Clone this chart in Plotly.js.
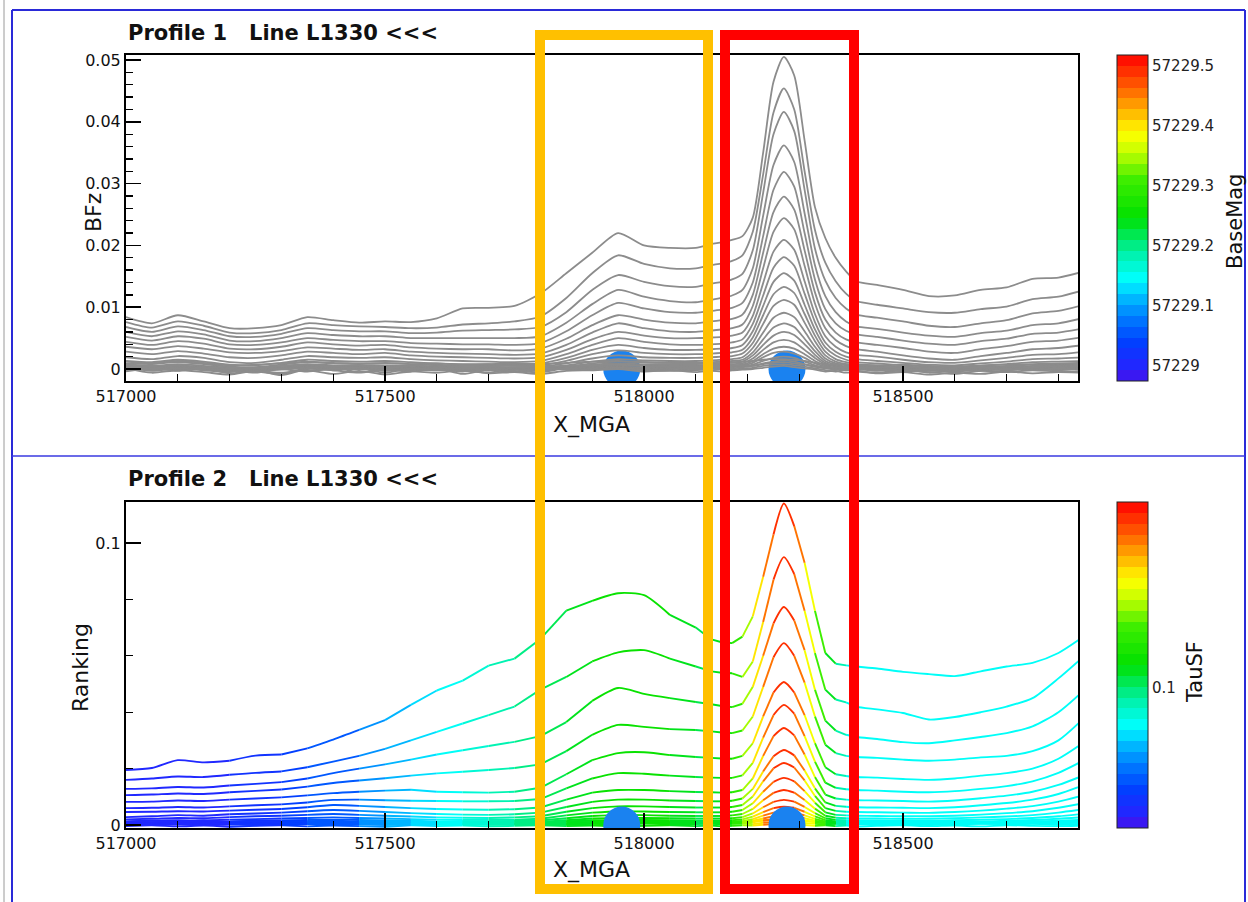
<!DOCTYPE html>
<html><head><meta charset="utf-8">
<script src="https://cdn.plot.ly/plotly-3.0.1.min.js"></script>
<style>html,body{margin:0;padding:0;background:#fff}#chart{width:1248px;height:902px}</style>
</head><body><div id="chart"></div>
<script>
// ---------------- DATA ----------------
const xStations = [517000,517050,517100,517150,517200,517250,517300,517350,517400,517450,517500,517550,517600,517650,517700,517750,517800,517850,517900,517950,518000,518050,518100,
518130,518150,518170,518190,518210,518230,518250,518270,518290,518310,518330,518350,518370,518390,518410,
518450,518500,518550,518600,518650,518700,518750,518800,518850];

// Profile 1 : BFz channels
const bfz1 = [0.0084,0.0074,0.0087,0.0077,0.0066,0.0066,0.0071,0.0084,0.0079,0.0075,0.0077,0.0076,0.0082,0.0098,0.0099,0.0102,0.0122,0.0155,0.0188,0.0220,0.0200,0.0196,0.0196,
0.0202,0.0205,0.0209,0.0215,0.0245,0.0350,0.0465,0.0505,0.0475,0.0370,0.0262,0.0212,0.0180,0.0158,0.0142,
0.0136,0.0128,0.0118,0.0119,0.0128,0.0132,0.0146,0.0148,0.0158];
const bfz2 = [0.0076,0.0067,0.0077,0.0070,0.0059,0.0058,0.0063,0.0074,0.0071,0.0069,0.0068,0.0066,0.0067,0.0072,0.0074,0.0077,0.0085,0.0115,0.0155,0.0184,0.0170,0.0163,0.0163,
0.0168,0.0171,0.0175,0.0184,0.0222,0.0315,0.0415,0.0454,0.0420,0.0320,0.0225,0.0172,0.0142,0.0122,0.0110,
0.0104,0.0098,0.0092,0.0091,0.0097,0.0101,0.0113,0.0117,0.0128];
const bfz3 = [0.0068,0.0060,0.0069,0.0063,0.0053,0.0052,0.0057,0.0066,0.0063,0.0061,0.0061,0.0058,0.0059,0.0062,0.0063,0.0064,0.0068,0.0092,0.0128,0.0152,0.0141,0.0134,0.0133,
0.0138,0.0141,0.0145,0.0154,0.0192,0.0285,0.0380,0.0416,0.0385,0.0290,0.0195,0.0143,0.0115,0.0098,0.0088,
0.0083,0.0077,0.0070,0.0068,0.0074,0.0079,0.0090,0.0094,0.0104];
const bfz4 = [0.0060,0.0053,0.0061,0.0056,0.0046,0.0045,0.0050,0.0058,0.0055,0.0053,0.0053,0.0050,0.0050,0.0050,0.0050,0.0050,0.0053,0.0075,0.0105,0.0128,0.0117,0.0110,0.0108,
0.0112,0.0115,0.0119,0.0128,0.0163,0.0248,0.0330,0.0362,0.0335,0.0252,0.0168,0.0118,0.0092,0.0077,0.0069,
0.0065,0.0059,0.0054,0.0052,0.0058,0.0062,0.0071,0.0074,0.0083];
const bfz5 = [0.0052,0.0046,0.0053,0.0049,0.0040,0.0039,0.0043,0.0050,0.0047,0.0045,0.0045,0.0042,0.0041,0.0040,0.0040,0.0039,0.0042,0.0061,0.0087,0.0107,0.0098,0.0092,0.0091,
0.0094,0.0096,0.0099,0.0107,0.0140,0.0215,0.0290,0.0319,0.0295,0.0220,0.0145,0.0097,0.0074,0.0062,0.0056,
0.0052,0.0046,0.0041,0.0039,0.0045,0.0049,0.0057,0.0059,0.0066];
const bfz6 = [0.0044,0.0039,0.0045,0.0041,0.0033,0.0032,0.0036,0.0043,0.0040,0.0038,0.0039,0.0035,0.0033,0.0032,0.0032,0.0030,0.0033,0.0049,0.0071,0.0087,0.0080,0.0075,0.0074,
0.0077,0.0079,0.0081,0.0088,0.0120,0.0188,0.0254,0.0279,0.0258,0.0192,0.0124,0.0080,0.0059,0.0048,0.0043,
0.0039,0.0034,0.0028,0.0026,0.0032,0.0037,0.0044,0.0046,0.0052];
const bfz7 = [0.0036,0.0032,0.0037,0.0033,0.0027,0.0026,0.0029,0.0035,0.0033,0.0031,0.0032,0.0028,0.0026,0.0025,0.0024,0.0023,0.0025,0.0039,0.0059,0.0074,0.0066,0.0061,0.0060,
0.0062,0.0064,0.0066,0.0072,0.0102,0.0163,0.0222,0.0244,0.0226,0.0167,0.0106,0.0066,0.0047,0.0037,0.0032,
0.0028,0.0022,0.0017,0.0015,0.0021,0.0026,0.0032,0.0034,0.0039];
const bfz8 = [0.0028,0.0024,0.0029,0.0025,0.0019,0.0018,0.0022,0.0028,0.0026,0.0024,0.0026,0.0022,0.0020,0.0019,0.0018,0.0017,0.0019,0.0031,0.0048,0.0060,0.0054,0.0050,0.0050,
0.0051,0.0052,0.0054,0.0059,0.0086,0.0139,0.0190,0.0209,0.0193,0.0142,0.0089,0.0053,0.0036,0.0027,0.0023,
0.0020,0.0015,0.0011,0.0010,0.0014,0.0018,0.0023,0.0024,0.0028];
const bfz9 = [0.0019,0.0016,0.0021,0.0018,0.0011,0.0010,0.0015,0.0021,0.0019,0.0018,0.0019,0.0016,0.0014,0.0013,0.0012,0.0011,0.0013,0.0024,0.0039,0.0050,0.0044,0.0040,0.0039,
0.0040,0.0041,0.0043,0.0048,0.0073,0.0119,0.0164,0.0181,0.0167,0.0122,0.0076,0.0043,0.0028,0.0020,0.0016,
0.0013,0.0010,0.0007,0.0006,0.0009,0.0012,0.0016,0.0017,0.0019];
const bfz10 = [0.0013,0.0011,0.0015,0.0012,0.0007,0.0006,0.0010,0.0015,0.0013,0.0012,0.0013,0.0011,0.0009,0.0008,0.0008,0.0007,0.0009,0.0018,0.0031,0.0039,0.0034,0.0031,0.0031,
0.0032,0.0033,0.0034,0.0039,0.0061,0.0102,0.0141,0.0155,0.0143,0.0104,0.0064,0.0035,0.0022,0.0015,0.0011,
0.0009,0.0006,0.0004,0.0003,0.0005,0.0008,0.0011,0.0012,0.0013];
const bfz11 = [0.0009,0.0008,0.0011,0.0008,0.0004,0.0003,0.0007,0.0011,0.0009,0.0009,0.0009,0.0008,0.0006,0.0005,0.0005,0.0005,0.0006,0.0013,0.0024,0.0030,0.0026,0.0024,0.0024,
0.0025,0.0026,0.0027,0.0031,0.0051,0.0087,0.0121,0.0133,0.0123,0.0089,0.0054,0.0028,0.0016,0.0011,0.0008,
0.0006,0.0004,0.0002,0.0001,0.0003,0.0005,0.0007,0.0008,0.0008];
const bfz12 = [0.0006,0.0005,0.0008,0.0005,0.0002,0.0001,0.0005,0.0008,0.0006,0.0006,0.0006,0.0005,0.0004,0.0003,0.0003,0.0003,0.0004,0.0009,0.0017,0.0022,0.0019,0.0018,0.0018,
0.0019,0.0020,0.0021,0.0025,0.0042,0.0073,0.0102,0.0112,0.0104,0.0075,0.0045,0.0022,0.0012,0.0008,0.0006,
0.0004,0.0002,0.0001,0.0000,0.0002,0.0003,0.0005,0.0006,0.0006];
const bfz13 = [0.0004,0.0003,0.0006,0.0003,0.0000,-0.0001,0.0003,0.0006,0.0004,0.0004,0.0004,0.0003,0.0002,0.0002,0.0002,0.0002,0.0003,0.0006,0.0012,0.0016,0.0014,0.0013,0.0013,
0.0014,0.0015,0.0016,0.0019,0.0034,0.0059,0.0083,0.0091,0.0084,0.0061,0.0036,0.0017,0.0009,0.0006,0.0004,
0.0003,0.0001,0.0000,-0.0001,0.0001,0.0002,0.0003,0.0004,0.0004];
const bfz14 = [0.0003,0.0002,0.0005,0.0002,-0.0001,-0.0002,0.0002,0.0005,0.0003,0.0003,0.0003,0.0002,0.0001,0.0001,0.0001,0.0001,0.0002,0.0004,0.0009,0.0012,0.0011,0.0010,0.0010,
0.0011,0.0012,0.0013,0.0015,0.0027,0.0048,0.0067,0.0074,0.0068,0.0049,0.0029,0.0013,0.0007,0.0004,0.0003,
0.0002,0.0000,-0.0001,-0.0001,0.0000,0.0001,0.0002,0.0003,0.0003];
const bfz15 = [0.0002,0.0001,0.0004,0.0001,-0.0002,-0.0002,0.0001,0.0004,0.0002,0.0002,0.0002,0.0001,0.0000,0.0001,0.0000,0.0000,0.0001,0.0003,0.0007,0.0009,0.0008,0.0008,0.0008,
0.0009,0.0010,0.0010,0.0012,0.0022,0.0039,0.0054,0.0060,0.0055,0.0040,0.0023,0.0010,0.0005,0.0003,0.0002,
0.0001,0.0000,-0.0001,-0.0002,0.0000,0.0000,0.0001,0.0002,0.0002];
const bfz16 = [0.0001,0.0000,0.0003,0.0000,-0.0003,-0.0002,0.0000,0.0003,0.0001,0.0001,0.0001,0.0000,-0.0001,0.0000,-0.0001,0.0000,0.0000,0.0002,0.0005,0.0007,0.0006,0.0006,0.0006,
0.0007,0.0008,0.0008,0.0009,0.0017,0.0031,0.0043,0.0047,0.0043,0.0031,0.0018,0.0008,0.0004,0.0002,0.0001,
0.0000,-0.0001,-0.0002,-0.0002,-0.0001,0.0000,0.0001,0.0001,0.0001];
const bfz17 = [0.0000,-0.0001,0.0002,-0.0001,-0.0004,-0.0003,-0.0001,0.0002,0.0000,0.0000,0.0000,-0.0001,-0.0002,-0.0001,-0.0002,-0.0001,-0.0001,0.0001,0.0004,0.0005,0.0005,0.0004,0.0004,
0.0005,0.0006,0.0006,0.0007,0.0013,0.0024,0.0033,0.0036,0.0033,0.0024,0.0013,0.0006,0.0002,0.0001,0.0000,
-0.0001,-0.0002,-0.0003,-0.0003,-0.0002,-0.0001,0.0000,0.0000,0.0000];
const bfz18 = [0.0005,0.0002,0.0003,0.0002,-0.0001,-0.0006,0.0001,0.0001,-0.0002,0.0002,-0.0003,0.0001,0.0000,-0.0004,0.0001,0.0000,-0.0003,0.0002,0.0003,0.0004,0.0002,0.0003,0.0001,
0.0003,0.0004,0.0004,0.0006,0.0010,0.0019,0.0026,0.0028,0.0025,0.0018,0.0009,0.0004,0.0000,0.0002,-0.0001,
0.0001,-0.0004,-0.0001,-0.0005,0.0001,-0.0002,0.0002,0.0000,0.0002];
const bfz19 = [-0.0002,0.0004,-0.0001,0.0003,0.0001,-0.0004,-0.0008,0.0002,0.0003,-0.0005,0.0000,-0.0002,0.0003,0.0000,-0.0006,0.0002,0.0001,0.0000,0.0002,0.0003,0.0000,0.0001,-0.0002,
0.0002,0.0001,0.0003,0.0004,0.0007,0.0013,0.0018,0.0020,0.0018,0.0012,0.0006,0.0002,-0.0001,0.0001,0.0000,
-0.0003,0.0001,-0.0006,-0.0002,-0.0003,0.0001,-0.0001,0.0001,-0.0001];
const bfz20 = [0.0003,-0.0003,0.0001,-0.0002,-0.0005,0.0002,0.0000,-0.0004,0.0001,0.0002,-0.0006,0.0001,-0.0001,0.0002,-0.0002,-0.0004,0.0002,-0.0001,0.0001,0.0002,-0.0001,0.0000,0.0001,
0.0000,0.0002,0.0001,0.0003,0.0005,0.0009,0.0012,0.0014,0.0012,0.0008,0.0004,0.0001,0.0000,-0.0002,0.0001,
0.0000,-0.0002,0.0000,-0.0004,0.0002,-0.0001,0.0000,-0.0002,0.0001];
const bfz21 = [0.0008,0.0005,0.0006,0.0009,0.0003,0.0001,0.0005,0.0007,0.0004,0.0006,0.0002,0.0005,0.0007,0.0003,0.0004,0.0006,0.0003,0.0005,0.0006,0.0007,0.0005,0.0004,0.0003,
0.0004,0.0003,0.0005,0.0006,0.0005,0.0008,0.0010,0.0011,0.0009,0.0007,0.0004,0.0003,0.0002,0.0004,0.0003,
0.0002,0.0004,0.0001,0.0003,0.0002,0.0004,0.0003,0.0005,0.0004];
const bfz22 = [-0.0004,0.0001,-0.0003,0.0002,-0.0007,-0.0002,-0.0010,0.0000,-0.0002,-0.0006,-0.0001,-0.0004,0.0001,-0.0008,-0.0001,-0.0003,-0.0005,0.0001,-0.0001,0.0002,-0.0002,-0.0003,-0.0001,
-0.0002,0.0000,-0.0001,0.0001,0.0002,0.0005,0.0007,0.0008,0.0006,0.0004,0.0001,-0.0002,-0.0004,-0.0001,-0.0003,
-0.0006,-0.0002,-0.0005,-0.0008,-0.0003,-0.0005,-0.0002,-0.0004,-0.0003];
const bfz23 = [0.0012,0.0009,0.0013,0.0010,0.0006,0.0007,0.0009,0.0012,0.0010,0.0008,0.0010,0.0008,0.0009,0.0007,0.0008,0.0009,0.0008,0.0010,0.0012,0.0013,0.0011,0.0010,0.0009,
0.0010,0.0009,0.0011,0.0012,0.0013,0.0015,0.0016,0.0016,0.0015,0.0013,0.0010,0.0008,0.0007,0.0008,0.0006,
0.0006,0.0007,0.0005,0.0004,0.0006,0.0007,0.0008,0.0009,0.0010];
const bfz24 = [0.0001,-0.0006,-0.0002,-0.0005,-0.0009,-0.0003,-0.0006,-0.0002,-0.0008,-0.0003,-0.0009,-0.0004,-0.0006,-0.0002,-0.0007,-0.0005,-0.0008,-0.0003,-0.0002,0.0000,-0.0004,-0.0002,-0.0005,
-0.0003,-0.0004,-0.0002,-0.0001,0.0000,0.0002,0.0004,0.0005,0.0003,0.0001,-0.0001,-0.0004,-0.0003,-0.0006,-0.0004,
-0.0007,-0.0005,-0.0009,-0.0006,-0.0008,-0.0004,-0.0007,-0.0005,-0.0006];
const bfzChannels = [bfz1,bfz2,bfz3,bfz4,bfz5,bfz6,bfz7,bfz8,bfz9,bfz10,bfz11,bfz12,bfz13,bfz14,bfz15,bfz16,bfz17,bfz18,bfz19,bfz20,bfz21,bfz22,bfz23,bfz24];

// Profile 2 : Ranking channels
const rank1 = [0.0195,0.0202,0.0230,0.0222,0.0228,0.0246,0.0250,0.0272,0.0303,0.0337,0.0372,0.0426,0.0477,0.0512,0.0565,0.0590,0.0660,0.0760,0.0795,0.0822,0.0815,0.0745,0.0700,
0.0658,0.0648,0.0645,0.0668,0.0740,0.0880,0.1030,0.1140,0.1060,0.0930,0.0760,0.0610,0.0572,0.0566,0.0562,
0.0555,0.0543,0.0535,0.0528,0.0545,0.0562,0.0575,0.0610,0.0670];
const rank2 = [0.0160,0.0165,0.0172,0.0170,0.0178,0.0185,0.0190,0.0205,0.0225,0.0245,0.0270,0.0300,0.0330,0.0360,0.0390,0.0420,0.0480,0.0525,0.0580,0.0612,0.0620,0.0590,0.0562,
0.0545,0.0540,0.0538,0.0525,0.0580,0.0720,0.0870,0.0950,0.0890,0.0760,0.0610,0.0480,0.0445,0.0435,0.0420,
0.0410,0.0397,0.0374,0.0383,0.0400,0.0420,0.0450,0.0520,0.0600];
const rank3 = [0.0128,0.0130,0.0135,0.0133,0.0140,0.0146,0.0152,0.0165,0.0184,0.0200,0.0215,0.0232,0.0250,0.0265,0.0280,0.0295,0.0315,0.0365,0.0440,0.0486,0.0465,0.0450,0.0436,
0.0428,0.0422,0.0418,0.0430,0.0490,0.0600,0.0715,0.0773,0.0725,0.0620,0.0480,0.0370,0.0335,0.0320,0.0312,
0.0305,0.0294,0.0290,0.0300,0.0312,0.0326,0.0350,0.0400,0.0479];
const rank4 = [0.0106,0.0108,0.0112,0.0110,0.0116,0.0121,0.0126,0.0136,0.0149,0.0158,0.0166,0.0175,0.0183,0.0189,0.0195,0.0202,0.0215,0.0262,0.0320,0.0355,0.0348,0.0340,0.0337,
0.0332,0.0328,0.0326,0.0335,0.0385,0.0490,0.0595,0.0645,0.0600,0.0505,0.0385,0.0285,0.0255,0.0245,0.0241,
0.0238,0.0232,0.0228,0.0232,0.0240,0.0245,0.0262,0.0300,0.0380];
const rank5 = [0.0082,0.0083,0.0087,0.0085,0.0090,0.0094,0.0098,0.0105,0.0113,0.0118,0.0122,0.0125,0.0118,0.0116,0.0115,0.0118,0.0132,0.0180,0.0230,0.0255,0.0258,0.0248,0.0241,
0.0238,0.0236,0.0235,0.0245,0.0290,0.0385,0.0470,0.0507,0.0470,0.0390,0.0290,0.0205,0.0180,0.0174,0.0170,
0.0168,0.0163,0.0160,0.0165,0.0175,0.0184,0.0200,0.0235,0.0294];
const rank6 = [0.0060,0.0061,0.0064,0.0062,0.0066,0.0070,0.0073,0.0080,0.0089,0.0090,0.0088,0.0086,0.0085,0.0084,0.0084,0.0085,0.0092,0.0130,0.0165,0.0184,0.0182,0.0175,0.0170,
0.0168,0.0167,0.0167,0.0176,0.0220,0.0310,0.0390,0.0426,0.0395,0.0315,0.0225,0.0150,0.0132,0.0127,0.0124,
0.0122,0.0118,0.0116,0.0120,0.0128,0.0138,0.0155,0.0185,0.0230];
const rank7 = [0.0046,0.0047,0.0049,0.0048,0.0051,0.0054,0.0057,0.0063,0.0071,0.0068,0.0064,0.0060,0.0057,0.0055,0.0054,0.0056,0.0062,0.0090,0.0115,0.0124,0.0124,0.0120,0.0117,
0.0116,0.0115,0.0116,0.0124,0.0165,0.0245,0.0315,0.0344,0.0318,0.0250,0.0170,0.0108,0.0094,0.0090,0.0088,
0.0087,0.0085,0.0083,0.0087,0.0095,0.0104,0.0118,0.0142,0.0177];
const rank8 = [0.0028,0.0031,0.0035,0.0033,0.0038,0.0041,0.0044,0.0049,0.0053,0.0050,0.0046,0.0042,0.0039,0.0037,0.0036,0.0038,0.0044,0.0064,0.0082,0.0090,0.0090,0.0087,0.0085,
0.0084,0.0084,0.0086,0.0094,0.0128,0.0190,0.0244,0.0266,0.0247,0.0193,0.0130,0.0080,0.0068,0.0065,0.0063,
0.0062,0.0061,0.0060,0.0063,0.0070,0.0078,0.0090,0.0110,0.0142];
const rank9 = [0.0020,0.0022,0.0025,0.0024,0.0028,0.0031,0.0033,0.0036,0.0039,0.0036,0.0033,0.0030,0.0027,0.0026,0.0025,0.0027,0.0031,0.0047,0.0060,0.0066,0.0066,0.0064,0.0062,
0.0062,0.0062,0.0064,0.0071,0.0101,0.0155,0.0201,0.0220,0.0204,0.0158,0.0103,0.0060,0.0050,0.0047,0.0046,
0.0045,0.0044,0.0043,0.0046,0.0051,0.0058,0.0067,0.0083,0.0106];
const rank10 = [0.0013,0.0015,0.0017,0.0016,0.0019,0.0021,0.0023,0.0025,0.0027,0.0025,0.0023,0.0021,0.0019,0.0018,0.0018,0.0019,0.0022,0.0034,0.0044,0.0048,0.0048,0.0046,0.0045,
0.0045,0.0045,0.0047,0.0053,0.0077,0.0118,0.0153,0.0167,0.0155,0.0120,0.0079,0.0045,0.0036,0.0034,0.0033,
0.0032,0.0031,0.0031,0.0033,0.0037,0.0042,0.0049,0.0061,0.0078];
const rank11 = [0.0009,0.0010,0.0012,0.0011,0.0013,0.0015,0.0016,0.0018,0.0019,0.0018,0.0016,0.0015,0.0013,0.0013,0.0013,0.0014,0.0016,0.0024,0.0032,0.0035,0.0035,0.0033,0.0032,
0.0032,0.0032,0.0034,0.0039,0.0057,0.0088,0.0114,0.0124,0.0115,0.0089,0.0058,0.0033,0.0026,0.0024,0.0023,
0.0023,0.0022,0.0022,0.0024,0.0027,0.0030,0.0035,0.0044,0.0056];
const rank12 = [0.0006,0.0007,0.0008,0.0008,0.0009,0.0010,0.0011,0.0012,0.0013,0.0012,0.0011,0.0010,0.0009,0.0009,0.0009,0.0010,0.0011,0.0017,0.0023,0.0025,0.0025,0.0024,0.0023,
0.0023,0.0023,0.0024,0.0028,0.0041,0.0063,0.0082,0.0089,0.0083,0.0064,0.0042,0.0024,0.0018,0.0017,0.0016,
0.0016,0.0016,0.0015,0.0017,0.0019,0.0021,0.0025,0.0031,0.0040];
const rank13 = [0.0004,0.0005,0.0006,0.0005,0.0006,0.0007,0.0008,0.0008,0.0009,0.0008,0.0008,0.0007,0.0006,0.0006,0.0006,0.0007,0.0008,0.0012,0.0016,0.0018,0.0018,0.0017,0.0016,
0.0016,0.0016,0.0017,0.0020,0.0030,0.0046,0.0060,0.0065,0.0061,0.0047,0.0031,0.0017,0.0013,0.0012,0.0011,
0.0011,0.0011,0.0011,0.0012,0.0013,0.0015,0.0018,0.0022,0.0028];
const rank14 = [0.0003,0.0003,0.0004,0.0004,0.0004,0.0005,0.0005,0.0006,0.0006,0.0006,0.0005,0.0005,0.0004,0.0004,0.0004,0.0005,0.0005,0.0008,0.0011,0.0012,0.0012,0.0012,0.0011,
0.0011,0.0011,0.0012,0.0014,0.0021,0.0033,0.0044,0.0048,0.0045,0.0034,0.0022,0.0012,0.0009,0.0008,0.0008,
0.0008,0.0008,0.0007,0.0008,0.0009,0.0010,0.0012,0.0015,0.0019];
const rank15 = [0.0002,0.0002,0.0003,0.0002,0.0003,0.0003,0.0004,0.0004,0.0004,0.0004,0.0003,0.0003,0.0003,0.0003,0.0003,0.0003,0.0004,0.0005,0.0007,0.0008,0.0008,0.0008,0.0008,
0.0008,0.0008,0.0008,0.0010,0.0015,0.0023,0.0031,0.0034,0.0032,0.0024,0.0015,0.0008,0.0006,0.0006,0.0005,
0.0005,0.0005,0.0005,0.0005,0.0006,0.0007,0.0008,0.0010,0.0013];
const rank16 = [0.0001,0.0001,0.0002,0.0001,0.0002,0.0002,0.0002,0.0003,0.0003,0.0002,0.0002,0.0002,0.0002,0.0002,0.0002,0.0002,0.0002,0.0003,0.0005,0.0005,0.0005,0.0005,0.0005,
0.0005,0.0005,0.0005,0.0006,0.0010,0.0016,0.0021,0.0023,0.0021,0.0016,0.0010,0.0005,0.0004,0.0004,0.0003,
0.0003,0.0003,0.0003,0.0003,0.0004,0.0004,0.0005,0.0006,0.0008];
const rank17 = [0.0012,0.0015,0.0010,0.0016,0.0011,0.0014,0.0009,0.0013,0.0016,0.0010,0.0012,0.0014,0.0009,0.0013,0.0011,0.0015,0.0010,0.0013,0.0016,0.0012,0.0014,0.0010,0.0013,
0.0011,0.0014,0.0012,0.0010,0.0013,0.0016,0.0018,0.0019,0.0017,0.0014,0.0011,0.0013,0.0010,0.0012,0.0014,
0.0010,0.0013,0.0011,0.0015,0.0012,0.0010,0.0014,0.0011,0.0013];
const rank18 = [0.0004,0.0000,0.0005,0.0002,0.0006,-0.0001,0.0003,0.0006,0.0001,0.0004,0.0000,0.0005,0.0002,0.0006,0.0001,0.0003,0.0005,0.0000,0.0004,0.0002,0.0006,0.0001,0.0003,
0.0005,0.0002,0.0004,0.0006,0.0003,0.0008,0.0010,0.0011,0.0009,0.0007,0.0004,0.0002,0.0005,0.0001,0.0004,
0.0002,0.0005,0.0000,0.0004,0.0006,0.0002,0.0004,0.0001,0.0005];
const rank19 = [-0.0004,-0.0001,-0.0005,-0.0002,-0.0006,-0.0003,-0.0001,-0.0005,-0.0002,-0.0004,-0.0006,-0.0001,-0.0004,-0.0002,-0.0005,-0.0003,-0.0001,-0.0004,-0.0002,-0.0005,-0.0003,-0.0001,-0.0004,
-0.0002,-0.0005,-0.0003,-0.0001,-0.0002,0.0001,0.0003,0.0004,0.0002,0.0000,-0.0003,-0.0001,-0.0004,-0.0002,-0.0005,
-0.0003,-0.0001,-0.0004,-0.0002,-0.0005,-0.0001,-0.0003,-0.0004,-0.0002];
const rankChannels = [rank1,rank2,rank3,rank4,rank5,rank6,rank7,rank8,rank9,rank10,rank11,rank12,rank13,rank14,rank15,rank16,rank17,rank18,rank19];

// TauSF value at each station (colours the Ranking lines)
const tauSF = [0.054,0.055,0.056,0.057,0.058,0.060,0.062,0.064,0.067,0.071,0.076,0.081,0.084,0.087,0.091,0.096,0.102,0.106,0.109,0.112,0.110,0.107,0.104,
0.104,0.107,0.113,0.124,0.136,0.148,0.158,0.163,0.158,0.146,0.130,0.112,0.098,0.090,0.087,
0.086,0.085,0.085,0.085,0.086,0.086,0.087,0.088,0.089];

// targets (blue dots)
const targetX = [517957, 518276];
const targetY = [0, 0];

// tick labels
const xTicks = [517000, 517500, 518000, 518500];
const xTickText = ['517000','517500','518000','518500'];
const bfzTicks = [0, 0.01, 0.02, 0.03, 0.04, 0.05];
const bfzTickText = ['0','0.01','0.02','0.03','0.04','0.05'];
const rankTicks = [0, 0.1];
const rankTickText = ['0','0.1'];
const baseMagTicks = [57229, 57229.1, 57229.2, 57229.3, 57229.4, 57229.5];
const baseMagTickText = ['57229','57229.1','57229.2','57229.3','57229.4','57229.5'];
const baseMagRange = [57228.975, 57229.518];
const tauTicks = [0.1];
const tauTickText = ['0.1'];
const tauRange = [0.05, 0.166];

// ---------------- STYLE / HELPERS ----------------
const W = 1248, H = 902;
const PX = x => x / W;
const PY = y => 1 - y / H;
const FONT = 'DejaVu Sans, Arial, sans-serif';

const baseScale = [[0,'#4a10e8'],[0.04,'#2424ff'],[0.12,'#0040ff'],[0.20,'#0080ff'],[0.26,'#00c0ff'],[0.31,'#00ffff'],
  [0.40,'#00f0a0'],[0.50,'#00e000'],[0.62,'#40ee00'],[0.70,'#c0ff00'],[0.76,'#ffff00'],[0.83,'#ffb000'],[0.90,'#ff6000'],[1,'#ff0000']];
function hex2rgb(h){return [parseInt(h.substr(1,2),16),parseInt(h.substr(3,2),16),parseInt(h.substr(5,2),16)];}
function sample(f){
  f = Math.max(0, Math.min(1, f));
  for (let i=0;i<baseScale.length-1;i++){
    const a=baseScale[i], b=baseScale[i+1];
    if (f<=b[0]){ const t=(f-a[0])/(b[0]-a[0]); const ca=hex2rgb(a[1]), cb=hex2rgb(b[1]);
      return 'rgb('+ca.map((v,k)=>Math.round(v+(cb[k]-v)*t)).join(',')+')'; }
  }
  return baseScale[baseScale.length-1][1];
}
const NB = 30;
const bandColors = []; const bandedScale = [];
for (let k=0;k<NB;k++){ const c=sample((k+0.5)/NB); bandColors.push(c); bandedScale.push([k/NB,c]); bandedScale.push([(k+1)/NB,c]); }
const bandOf = f => Math.max(0, Math.min(NB-1, Math.floor(f*NB)));

const traces = [];
// Profile 1: blue targets under lines
traces.push({x: targetX, y: targetY, xaxis:'x', yaxis:'y', mode:'markers', type:'scatter',
  marker:{size:37, color:'#1a82f0', line:{width:0}}, hoverinfo:'skip', showlegend:false});
bfzChannels.forEach(ch => traces.push({x: xStations, y: ch, xaxis:'x', yaxis:'y', type:'scatter', mode:'lines',
  line:{color:'#8c8c8c', width:1.8, shape:'spline', smoothing:0.7}, hoverinfo:'skip', showlegend:false}));

// Profile 2: lines coloured by TauSF, grouped by colour band
const bandX = Array.from({length:NB},()=>[]), bandY = Array.from({length:NB},()=>[]);
rankChannels.forEach(ch => {
  let cur = -1, rx = [], ry = [];
  const flush = () => { if (rx.length>1){ bandX[cur].push(...rx, null); bandY[cur].push(...ry, null);} };
  for (let i=0;i<xStations.length-1;i++){
    const f = ((tauSF[i]+tauSF[i+1])/2 - tauRange[0])/(tauRange[1]-tauRange[0]);
    const b = bandOf(f);
    if (b!==cur){ flush(); cur=b; rx=[xStations[i]]; ry=[ch[i]]; }
    rx.push(xStations[i+1]); ry.push(ch[i+1]);
  }
  flush();
});
for (let k=0;k<NB;k++){ if (bandX[k].length) traces.push({x: bandX[k], y: bandY[k], xaxis:'x2', yaxis:'y2', type:'scatter', mode:'lines',
  line:{color: bandColors[k], width:1.9, shape:'spline', smoothing:0.7}, connectgaps:false, hoverinfo:'skip', showlegend:false}); }
traces.push({x: targetX, y: targetY, xaxis:'x2', yaxis:'y2', mode:'markers', type:'scatter',
  marker:{size:37, color:'#1a82f0', line:{width:0}}, hoverinfo:'skip', showlegend:false});

// colour bars (dummy points outside the visible range)
traces.push({x:[517000], y:[-1], xaxis:'x', yaxis:'y', type:'scatter', mode:'markers', hoverinfo:'skip', showlegend:false,
  marker:{size:1, color:[57229.2], cmin:baseMagRange[0], cmax:baseMagRange[1], colorscale:bandedScale, showscale:true,
   colorbar:{x:PX(1117), xanchor:'left', xpad:0, ypad:0, y:PY(381), yanchor:'bottom', len:326/H, lenmode:'fraction', thickness:31,
     outlinewidth:1, outlinecolor:'#222', ticks:'', tickmode:'array', tickvals:baseMagTicks, ticktext:baseMagTickText,
     tickfont:{family:FONT, size:15, color:'#222'}, title:{text:''}}}});
traces.push({x:[517000], y:[-1], xaxis:'x2', yaxis:'y2', type:'scatter', mode:'markers', hoverinfo:'skip', showlegend:false,
  marker:{size:1, color:[0.1], cmin:tauRange[0], cmax:tauRange[1], colorscale:bandedScale, showscale:true,
   colorbar:{x:PX(1117), xanchor:'left', xpad:0, ypad:0, y:PY(828), yanchor:'bottom', len:326/H, lenmode:'fraction', thickness:31,
     outlinewidth:1, outlinecolor:'#222', ticks:'', tickmode:'array', tickvals:tauTicks, ticktext:tauTickText,
     tickfont:{family:FONT, size:15, color:'#222'}, title:{text:''}}}});

function xAxis(anchor){
  return {domain:[PX(126),PX(1078)], anchor:anchor, range:[517000,518837.8], tickmode:'array', tickvals:xTicks, ticktext:xTickText,
    ticks:'inside', ticklen:15, tickwidth:1.5, tickcolor:'#000',
    minor:{tickmode:'linear', tick0:517000, dtick:100, ticks:'inside', ticklen:7, tickwidth:1.3, tickcolor:'#000', showgrid:false},
    showline:true, linecolor:'#000', linewidth:2, mirror:true, showgrid:false, zeroline:false,
    tickfont:{family:FONT, size:16, color:'#111'}};
}
function yAxis(anchor, dom, range, tv, tt, minorD){
  return {domain:dom, anchor:anchor, range:range, tickmode:'array', tickvals:tv, ticktext:tt,
    ticks:'inside', ticklen:15, tickwidth:1.5, tickcolor:'#000',
    minor:{tickmode:'linear', tick0:0, dtick:minorD, ticks:'inside', ticklen:7, tickwidth:1.3, tickcolor:'#000', showgrid:false},
    showline:true, linecolor:'#000', linewidth:2, mirror:true, showgrid:false, zeroline:false,
    tickfont:{family:FONT, size:16, color:'#111'}};
}

const ann = (x,y,text,size,opts) => Object.assign({xref:'paper', yref:'paper', x:PX(x), y:PY(y), text:text, showarrow:false,
  font:{family:FONT, size:size, color:'#111'}, xanchor:'center', yanchor:'middle'}, opts||{});
const NB3 = '\u00a0\u00a0\u00a0';
const annotations = [
  ann(126, 33, '<b>Profile 1'+NB3+'Line L1330 &lt;&lt;&lt;</b>', 21, {xanchor:'left'}),
  ann(126, 479, '<b>Profile 2'+NB3+'Line L1330 &lt;&lt;&lt;</b>', 21, {xanchor:'left'}),
  ann(94, 213, 'BFz', 22, {textangle:-90}),
  ann(80, 668, 'Ranking', 22, {textangle:-90}),
  ann(591, 425, 'X_MGA', 22),
  ann(591, 870, 'X_MGA', 22),
  ann(1235, 222, 'BaseMag', 21, {textangle:-90}),
  ann(1195, 672, 'TauSF', 21, {textangle:-90})
];

const rect = (x0,y0,x1,y1,color) => ({type:'rect', xref:'paper', yref:'paper', x0:PX(x0), x1:PX(x1), y0:PY(y1), y1:PY(y0),
  line:{color:color, width:10}, fillcolor:'rgba(0,0,0,0)', layer:'above'});
const hline = (x0,x1,y,color,w) => ({type:'line', xref:'paper', yref:'paper', x0:PX(x0), x1:PX(x1), y0:PY(y), y1:PY(y), line:{color:color, width:w}});
const vline = (x,y0,y1,color,w) => ({type:'line', xref:'paper', yref:'paper', x0:PX(x), x1:PX(x), y0:PY(y0), y1:PY(y1), line:{color:color, width:w}});
const shapes = [
  hline(12,1245,10,'#2a2ad8',2), vline(12,10,902,'#2a2ad8',2), vline(1245,10,902,'#2a2ad8',2), hline(12,1245,456,'#3a3ae0',1.5),
  vline(4,0,902,'#9a9a9a',1),
  rect(540,35,708,889,'#ffc000'),
  rect(725,35,854,889,'#ff0000')
];

const layout = {
  width:W, height:H, margin:{l:0,r:0,t:0,b:0,pad:0}, paper_bgcolor:'#fff', plot_bgcolor:'#fff',
  showlegend:false, font:{family:FONT, color:'#111'},
  xaxis: xAxis('y'), yaxis: yAxis('x', [PY(381),PY(55)], [-0.00194,0.05081], bfzTicks, bfzTickText, 0.002),
  xaxis2: xAxis('y2'), yaxis2: yAxis('x2', [PY(828),PY(502)], [-0.00106,0.11454], rankTicks, rankTickText, 0.02),
  annotations: annotations, shapes: shapes
};
Plotly.newPlot('chart', traces, layout, {staticPlot:true, displayModeBar:false});
</script></body></html>
